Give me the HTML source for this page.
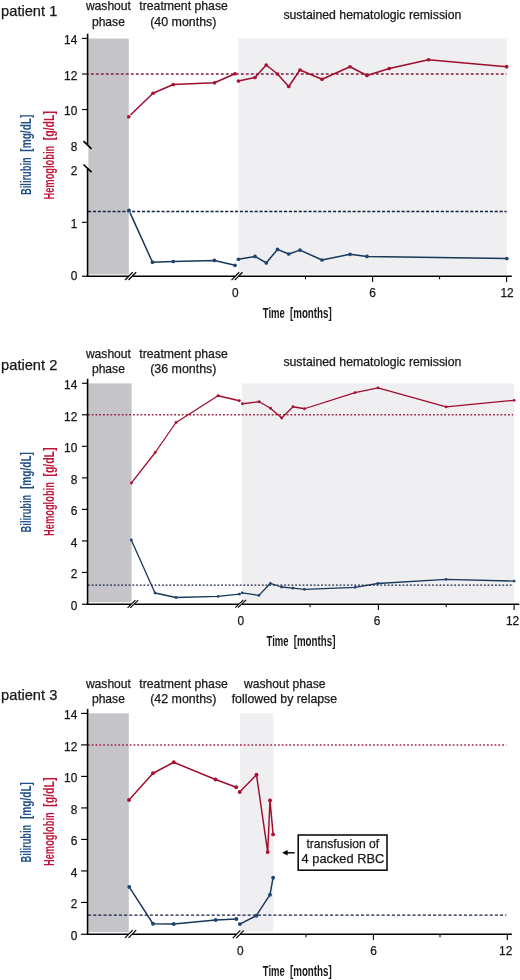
<!DOCTYPE html>
<html lang="en">
<head>
<meta charset="utf-8">
<title>Hemoglobin and bilirubin time courses</title>
<style>
html,body{margin:0;padding:0;background:#fff;}
body{width:520px;height:980px;overflow:hidden;}
svg{display:block;}
text{font-family:"Liberation Sans",Arial,Helvetica,sans-serif;fill:#1a1718;stroke:#1a1718;stroke-width:0.25px;}
.tk{font-size:11.9px;}
.hd{font-size:12.1px;}
.pt{font-size:14.3px;}
.ax{font-size:15.1px;stroke-width:0;font-weight:bold;}
.bl{fill:#1F4F86;stroke:#1F4F86;}
.rd{fill:#BE1638;stroke:#BE1638;}
.bk{fill:#1a1718;stroke:#1a1718;}
</style>
</head>
<body>
<svg width="520" height="980" viewBox="0 0 520 980">
<rect x="0" y="0" width="520" height="980" fill="#fff"/>
<!-- patient 1 -->
<g>
<rect x="88.4" y="38.5" width="40.40" height="236.00" fill="#C5C4C9"/>
<rect x="238.5" y="38.5" width="268.40" height="236.00" fill="#EFEFF2"/>
<line x1="88" y1="73.9" x2="506.5" y2="73.9" stroke="#83203F" stroke-width="1.55" stroke-dasharray="2.85 2.15" stroke-dashoffset="2.15"/>
<line x1="88" y1="211.5" x2="506.5" y2="211.5" stroke="#12223F" stroke-width="1.35" stroke-dasharray="3.1 1.8" stroke-dashoffset="0"/>
<polyline points="130.47,115.08 153.00,93.25 173.25,84.50 214.50,82.75 235.00,73.75" fill="none" stroke="#9E0D2C" stroke-width="1.5" stroke-linejoin="round" stroke-linecap="butt"/>
<polyline points="238.40,81.00 255.00,77.50 266.25,65.00 277.50,74.00 288.75,86.50 300.00,70.00 322.00,79.25 350.00,66.75 367.00,75.50 389.25,68.50 428.50,59.75 506.60,66.70" fill="none" stroke="#9E0D2C" stroke-width="1.5" stroke-linejoin="round" stroke-linecap="butt"/>
<circle cx="128.75" cy="116.75" r="1.85" fill="#AD0F31"/>
<circle cx="153.00" cy="93.25" r="1.85" fill="#AD0F31"/>
<circle cx="173.25" cy="84.50" r="1.85" fill="#AD0F31"/>
<circle cx="214.50" cy="82.75" r="1.85" fill="#AD0F31"/>
<circle cx="235.00" cy="73.75" r="1.85" fill="#AD0F31"/>
<circle cx="238.40" cy="81.00" r="1.85" fill="#AD0F31"/>
<circle cx="255.00" cy="77.50" r="1.85" fill="#AD0F31"/>
<circle cx="266.25" cy="65.00" r="1.85" fill="#AD0F31"/>
<circle cx="277.50" cy="74.00" r="1.85" fill="#AD0F31"/>
<circle cx="288.75" cy="86.50" r="1.85" fill="#AD0F31"/>
<circle cx="300.00" cy="70.00" r="1.85" fill="#AD0F31"/>
<circle cx="322.00" cy="79.25" r="1.85" fill="#AD0F31"/>
<circle cx="350.00" cy="66.75" r="1.85" fill="#AD0F31"/>
<circle cx="367.00" cy="75.50" r="1.85" fill="#AD0F31"/>
<circle cx="389.25" cy="68.50" r="1.85" fill="#AD0F31"/>
<circle cx="428.50" cy="59.75" r="1.85" fill="#AD0F31"/>
<circle cx="506.60" cy="66.70" r="1.85" fill="#AD0F31"/>
<polyline points="129.99,212.59 152.45,262.20 173.20,261.50 214.45,260.45 235.00,265.30" fill="none" stroke="#1A3658" stroke-width="1.5" stroke-linejoin="round" stroke-linecap="butt"/>
<polyline points="238.40,259.25 255.00,256.40 266.25,262.90 277.50,249.40 288.75,254.00 300.00,250.10 322.00,260.00 350.00,254.30 367.00,256.45 506.80,258.50" fill="none" stroke="#1A3658" stroke-width="1.5" stroke-linejoin="round" stroke-linecap="butt"/>
<circle cx="129.00" cy="210.40" r="1.85" fill="#1D4677"/>
<circle cx="152.45" cy="262.20" r="1.85" fill="#1D4677"/>
<circle cx="173.20" cy="261.50" r="1.85" fill="#1D4677"/>
<circle cx="214.45" cy="260.45" r="1.85" fill="#1D4677"/>
<circle cx="235.00" cy="265.30" r="1.85" fill="#1D4677"/>
<circle cx="238.40" cy="259.25" r="1.85" fill="#1D4677"/>
<circle cx="255.00" cy="256.40" r="1.85" fill="#1D4677"/>
<circle cx="266.25" cy="262.90" r="1.85" fill="#1D4677"/>
<circle cx="277.50" cy="249.40" r="1.85" fill="#1D4677"/>
<circle cx="288.75" cy="254.00" r="1.85" fill="#1D4677"/>
<circle cx="300.00" cy="250.10" r="1.85" fill="#1D4677"/>
<circle cx="322.00" cy="260.00" r="1.85" fill="#1D4677"/>
<circle cx="350.00" cy="254.30" r="1.85" fill="#1D4677"/>
<circle cx="367.00" cy="256.45" r="1.85" fill="#1D4677"/>
<circle cx="506.80" cy="258.50" r="1.85" fill="#1D4677"/>
<line x1="87.6" y1="33.7" x2="87.6" y2="144.9" stroke="#000" stroke-width="1.6"/>
<line x1="87.6" y1="168.0" x2="87.6" y2="277.0" stroke="#000" stroke-width="1.6"/>
<line x1="83.5" y1="141.15" x2="91.5" y2="148.85" stroke="#000" stroke-width="1.7"/>
<line x1="83.5" y1="164.5" x2="91.5" y2="172.15" stroke="#000" stroke-width="1.7"/>
<line x1="86.8" y1="276.2" x2="128.6" y2="276.2" stroke="#000" stroke-width="1.6"/>
<line x1="132.4" y1="276.2" x2="235.3" y2="276.2" stroke="#000" stroke-width="1.6"/>
<line x1="238.8" y1="276.2" x2="511.8" y2="276.2" stroke="#000" stroke-width="1.6"/>
<line x1="125" y1="280" x2="132.7" y2="272.3" stroke="#000" stroke-width="1.25"/>
<line x1="128.5" y1="280" x2="136.2" y2="272.3" stroke="#000" stroke-width="1.25"/>
<line x1="231.5" y1="280.15" x2="239.2" y2="272.3" stroke="#000" stroke-width="1.25"/>
<line x1="234.7" y1="280.15" x2="242.5" y2="272.3" stroke="#000" stroke-width="1.25"/>
<line x1="82.0" y1="38.4" x2="87.6" y2="38.4" stroke="#000" stroke-width="1.15"/>
<text x="77.3" y="44.0" text-anchor="end" class="tk">14</text>
<line x1="82.0" y1="74.0" x2="87.6" y2="74.0" stroke="#000" stroke-width="1.15"/>
<text x="77.3" y="79.85" text-anchor="end" class="tk">12</text>
<line x1="82.0" y1="109.55" x2="87.6" y2="109.55" stroke="#000" stroke-width="1.15"/>
<text x="77.3" y="115.2" text-anchor="end" class="tk">10</text>
<text x="77.3" y="150.9" text-anchor="end" class="tk">8</text>
<text x="77.3" y="174.5" text-anchor="end" class="tk">2</text>
<line x1="82.0" y1="222.3" x2="87.6" y2="222.3" stroke="#000" stroke-width="1.15"/>
<text x="77.3" y="228.1" text-anchor="end" class="tk">1</text>
<line x1="82.0" y1="276.25" x2="87.6" y2="276.25" stroke="#000" stroke-width="1.15"/>
<text x="77.3" y="279.8" text-anchor="end" class="tk">0</text>
<line x1="305.5" y1="276.2" x2="305.5" y2="279.3" stroke="#000" stroke-width="1.1"/>
<line x1="372.6" y1="276.2" x2="372.6" y2="281.9" stroke="#000" stroke-width="1.1"/>
<line x1="439.6" y1="276.2" x2="439.6" y2="279.3" stroke="#000" stroke-width="1.1"/>
<line x1="506.6" y1="276.2" x2="506.6" y2="281.9" stroke="#000" stroke-width="1.1"/>
<text x="235.2" y="296.8" text-anchor="middle" class="tk">0</text>
<text x="372.5" y="296.8" text-anchor="middle" class="tk">6</text>
<text x="507.1" y="296.8" text-anchor="middle" class="tk">12</text>
<text x="1.1" y="16.2" class="pt" textLength="56.2" lengthAdjust="spacingAndGlyphs">patient 1</text>
<text x="108.4" y="10.3" text-anchor="middle" class="hd">washout</text>
<text x="108.4" y="25.85" text-anchor="middle" class="hd">phase</text>
<text x="183.6" y="10.3" text-anchor="middle" class="hd" textLength="88.6" lengthAdjust="spacingAndGlyphs">treatment phase</text>
<text x="183.3" y="25.85" text-anchor="middle" class="hd" textLength="66.3" lengthAdjust="spacingAndGlyphs">(40 months)</text>
<text x="372.4" y="19.2" text-anchor="middle" class="hd" textLength="178" lengthAdjust="spacingAndGlyphs">sustained hematologic remission</text>
<text transform="translate(31.3 194.6) rotate(-90)" class="ax bl"><tspan x="-0.4" textLength="37.7" lengthAdjust="spacingAndGlyphs">Bilirubin</tspan> <tspan x="42.9" textLength="37.1" lengthAdjust="spacingAndGlyphs">[mg/dL]</tspan></text>
<text transform="translate(53.8 199.2) rotate(-90)" class="ax rd"><tspan x="-0.4" textLength="53.9" lengthAdjust="spacingAndGlyphs">Hemoglobin</tspan> <tspan x="59.0" textLength="29.1" lengthAdjust="spacingAndGlyphs">[g/dL]</tspan></text>
<text transform="translate(263.2 317.9)" class="ax bk"><tspan x="-0.4" textLength="22.0" lengthAdjust="spacingAndGlyphs">Time</tspan> <tspan x="26.8" textLength="41.7" lengthAdjust="spacingAndGlyphs">[months]</tspan></text>
</g>
<!-- patient 2 -->
<g>
<rect x="88.4" y="383.4" width="43.20" height="218.90" fill="#C5C4C9"/>
<rect x="242" y="383.4" width="272.20" height="218.90" fill="#EFEFF2"/>
<line x1="88" y1="414.8" x2="513" y2="414.8" stroke="#A01F3E" stroke-width="1.5" stroke-dasharray="1.75 2" stroke-dashoffset="0"/>
<line x1="88" y1="585.15" x2="513" y2="585.15" stroke="#12223F" stroke-width="1.3" stroke-dasharray="1.8 1.9" stroke-dashoffset="0"/>
<polyline points="131.89,482.37 155.20,452.50 176.00,422.50 218.00,395.75 239.40,400.75" fill="none" stroke="#9E0D2C" stroke-width="1.3" stroke-linejoin="round" stroke-linecap="butt"/>
<polyline points="242.40,403.75 259.20,401.75 270.50,408.25 281.70,418.00 293.00,406.75 304.50,408.75 355.10,392.60 378.00,387.80 446.20,406.90 514.10,400.30" fill="none" stroke="#9E0D2C" stroke-width="1.3" stroke-linejoin="round" stroke-linecap="butt"/>
<circle cx="131.40" cy="483.00" r="1.4" fill="#AD0F31"/>
<circle cx="155.20" cy="452.50" r="1.4" fill="#AD0F31"/>
<circle cx="176.00" cy="422.50" r="1.4" fill="#AD0F31"/>
<circle cx="218.00" cy="395.75" r="1.4" fill="#AD0F31"/>
<circle cx="239.40" cy="400.75" r="1.4" fill="#AD0F31"/>
<circle cx="242.40" cy="403.75" r="1.4" fill="#AD0F31"/>
<circle cx="259.20" cy="401.75" r="1.4" fill="#AD0F31"/>
<circle cx="270.50" cy="408.25" r="1.4" fill="#AD0F31"/>
<circle cx="281.70" cy="418.00" r="1.4" fill="#AD0F31"/>
<circle cx="293.00" cy="406.75" r="1.4" fill="#AD0F31"/>
<circle cx="304.50" cy="408.75" r="1.4" fill="#AD0F31"/>
<circle cx="355.10" cy="392.60" r="1.4" fill="#AD0F31"/>
<circle cx="378.00" cy="387.80" r="1.4" fill="#AD0F31"/>
<circle cx="446.20" cy="406.90" r="1.4" fill="#AD0F31"/>
<circle cx="514.10" cy="400.30" r="1.4" fill="#AD0F31"/>
<polyline points="131.63,540.73 155.00,593.00 176.00,597.50 218.10,596.40 239.40,594.20" fill="none" stroke="#1A3658" stroke-width="1.3" stroke-linejoin="round" stroke-linecap="butt"/>
<polyline points="242.10,592.80 258.90,595.40 270.40,583.30 281.50,587.00 292.90,588.20 304.40,589.40 355.00,587.30 377.80,583.50 446.10,579.30 514.20,581.10" fill="none" stroke="#1A3658" stroke-width="1.3" stroke-linejoin="round" stroke-linecap="butt"/>
<circle cx="131.30" cy="540.00" r="1.4" fill="#1D4677"/>
<circle cx="155.00" cy="593.00" r="1.4" fill="#1D4677"/>
<circle cx="176.00" cy="597.50" r="1.4" fill="#1D4677"/>
<circle cx="218.10" cy="596.40" r="1.4" fill="#1D4677"/>
<circle cx="239.40" cy="594.20" r="1.4" fill="#1D4677"/>
<circle cx="242.10" cy="592.80" r="1.4" fill="#1D4677"/>
<circle cx="258.90" cy="595.40" r="1.4" fill="#1D4677"/>
<circle cx="270.40" cy="583.30" r="1.4" fill="#1D4677"/>
<circle cx="281.50" cy="587.00" r="1.4" fill="#1D4677"/>
<circle cx="292.90" cy="588.20" r="1.4" fill="#1D4677"/>
<circle cx="304.40" cy="589.40" r="1.4" fill="#1D4677"/>
<circle cx="355.00" cy="587.30" r="1.4" fill="#1D4677"/>
<circle cx="377.80" cy="583.50" r="1.4" fill="#1D4677"/>
<circle cx="446.10" cy="579.30" r="1.4" fill="#1D4677"/>
<circle cx="514.20" cy="581.10" r="1.4" fill="#1D4677"/>
<line x1="87.6" y1="378.7" x2="87.6" y2="605.0" stroke="#000" stroke-width="1.6"/>
<line x1="86.8" y1="604.2" x2="131.2" y2="604.2" stroke="#000" stroke-width="1.6"/>
<line x1="134.4" y1="604.2" x2="238.8" y2="604.2" stroke="#000" stroke-width="1.6"/>
<line x1="241.8" y1="604.2" x2="519.3" y2="604.2" stroke="#000" stroke-width="1.6"/>
<line x1="127.5" y1="607.85" x2="135.4" y2="600.15" stroke="#000" stroke-width="1.15"/>
<line x1="130.2" y1="607.85" x2="138.2" y2="600.15" stroke="#000" stroke-width="1.15"/>
<line x1="235.2" y1="607.7" x2="243.4" y2="599.8" stroke="#000" stroke-width="1.15"/>
<line x1="237.9" y1="607.7" x2="246.2" y2="599.8" stroke="#000" stroke-width="1.15"/>
<line x1="82.0" y1="383.27" x2="87.6" y2="383.27" stroke="#000" stroke-width="1.15"/>
<text x="77.3" y="389.22" text-anchor="end" class="tk">14</text>
<line x1="82.0" y1="414.8" x2="87.6" y2="414.8" stroke="#000" stroke-width="1.15"/>
<text x="77.3" y="420.75" text-anchor="end" class="tk">12</text>
<line x1="82.0" y1="446.33" x2="87.6" y2="446.33" stroke="#000" stroke-width="1.15"/>
<text x="77.3" y="452.28" text-anchor="end" class="tk">10</text>
<line x1="82.0" y1="477.87" x2="87.6" y2="477.87" stroke="#000" stroke-width="1.15"/>
<text x="77.3" y="483.82" text-anchor="end" class="tk">8</text>
<line x1="82.0" y1="509.4" x2="87.6" y2="509.4" stroke="#000" stroke-width="1.15"/>
<text x="77.3" y="515.35" text-anchor="end" class="tk">6</text>
<line x1="82.0" y1="540.93" x2="87.6" y2="540.93" stroke="#000" stroke-width="1.15"/>
<text x="77.3" y="546.88" text-anchor="end" class="tk">4</text>
<line x1="82.0" y1="572.46" x2="87.6" y2="572.46" stroke="#000" stroke-width="1.15"/>
<text x="77.3" y="578.41" text-anchor="end" class="tk">2</text>
<line x1="82.0" y1="604.25" x2="87.6" y2="604.25" stroke="#000" stroke-width="1.15"/>
<text x="77.3" y="609.94" text-anchor="end" class="tk">0</text>
<line x1="310.1" y1="604.2" x2="310.1" y2="607.3000000000001" stroke="#000" stroke-width="1.1"/>
<line x1="378.4" y1="604.2" x2="378.4" y2="609.9000000000001" stroke="#000" stroke-width="1.1"/>
<line x1="446.2" y1="604.2" x2="446.2" y2="607.3000000000001" stroke="#000" stroke-width="1.1"/>
<line x1="514.1" y1="604.2" x2="514.1" y2="609.9000000000001" stroke="#000" stroke-width="1.1"/>
<text x="240.8" y="625.0" text-anchor="middle" class="tk">0</text>
<text x="377.0" y="625.0" text-anchor="middle" class="tk">6</text>
<text x="512.5" y="625.0" text-anchor="middle" class="tk">12</text>
<text x="1.1" y="370.3" class="pt" textLength="56.2" lengthAdjust="spacingAndGlyphs">patient 2</text>
<text x="108.4" y="357.9" text-anchor="middle" class="hd">washout</text>
<text x="108.4" y="373.3" text-anchor="middle" class="hd">phase</text>
<text x="183.6" y="357.9" text-anchor="middle" class="hd" textLength="88.6" lengthAdjust="spacingAndGlyphs">treatment phase</text>
<text x="183.3" y="373.3" text-anchor="middle" class="hd" textLength="66.3" lengthAdjust="spacingAndGlyphs">(36 months)</text>
<text x="372.4" y="366.2" text-anchor="middle" class="hd" textLength="178" lengthAdjust="spacingAndGlyphs">sustained hematologic remission</text>
<text transform="translate(31.3 532.0) rotate(-90)" class="ax bl"><tspan x="-0.4" textLength="37.7" lengthAdjust="spacingAndGlyphs">Bilirubin</tspan> <tspan x="42.9" textLength="37.1" lengthAdjust="spacingAndGlyphs">[mg/dL]</tspan></text>
<text transform="translate(53.8 535.6) rotate(-90)" class="ax rd"><tspan x="-0.4" textLength="53.9" lengthAdjust="spacingAndGlyphs">Hemoglobin</tspan> <tspan x="59.0" textLength="29.1" lengthAdjust="spacingAndGlyphs">[g/dL]</tspan></text>
<text transform="translate(266.9 645.8)" class="ax bk"><tspan x="-0.4" textLength="22.0" lengthAdjust="spacingAndGlyphs">Time</tspan> <tspan x="26.8" textLength="41.7" lengthAdjust="spacingAndGlyphs">[months]</tspan></text>
</g>
<!-- patient 3 -->
<g>
<rect x="88.4" y="713.3" width="40.40" height="218.90" fill="#C5C4C9"/>
<rect x="240.1" y="713.3" width="33.20" height="218.50" fill="#EFEFF2"/>
<line x1="88" y1="744.9" x2="506.3" y2="744.9" stroke="#A01F3E" stroke-width="1.5" stroke-dasharray="1.7 2.1" stroke-dashoffset="0"/>
<line x1="88" y1="915.15" x2="506.3" y2="915.15" stroke="#12223F" stroke-width="1.35" stroke-dasharray="3.1 2.05" stroke-dashoffset="0"/>
<polyline points="130.07,798.81 153.00,773.25 173.75,762.25 215.50,779.50 236.20,787.20" fill="none" stroke="#9E0D2C" stroke-width="1.45" stroke-linejoin="round" stroke-linecap="butt"/>
<polyline points="239.70,792.00 256.50,774.80 267.70,852.10 270.00,800.40 273.10,834.40" fill="none" stroke="#9E0D2C" stroke-width="1.45" stroke-linejoin="round" stroke-linecap="butt"/>
<circle cx="129.00" cy="800.00" r="1.95" fill="#AD0F31"/>
<circle cx="153.00" cy="773.25" r="1.95" fill="#AD0F31"/>
<circle cx="173.75" cy="762.25" r="1.95" fill="#AD0F31"/>
<circle cx="215.50" cy="779.50" r="1.95" fill="#AD0F31"/>
<circle cx="236.20" cy="787.20" r="1.95" fill="#AD0F31"/>
<circle cx="239.70" cy="792.00" r="1.95" fill="#AD0F31"/>
<circle cx="256.50" cy="774.80" r="1.95" fill="#AD0F31"/>
<circle cx="267.70" cy="852.10" r="1.95" fill="#AD0F31"/>
<circle cx="270.00" cy="800.40" r="1.95" fill="#AD0F31"/>
<circle cx="273.10" cy="834.40" r="1.95" fill="#AD0F31"/>
<polyline points="130.12,888.34 153.00,923.75 173.75,924.00 215.75,920.00 236.40,919.00" fill="none" stroke="#1A3658" stroke-width="1.45" stroke-linejoin="round" stroke-linecap="butt"/>
<polyline points="239.80,924.10 256.30,915.70 270.00,894.70 273.10,877.70" fill="none" stroke="#1A3658" stroke-width="1.45" stroke-linejoin="round" stroke-linecap="butt"/>
<circle cx="129.25" cy="887.00" r="1.95" fill="#1D4677"/>
<circle cx="153.00" cy="923.75" r="1.95" fill="#1D4677"/>
<circle cx="173.75" cy="924.00" r="1.95" fill="#1D4677"/>
<circle cx="215.75" cy="920.00" r="1.95" fill="#1D4677"/>
<circle cx="236.40" cy="919.00" r="1.95" fill="#1D4677"/>
<circle cx="239.80" cy="924.10" r="1.95" fill="#1D4677"/>
<circle cx="256.30" cy="915.70" r="1.95" fill="#1D4677"/>
<circle cx="270.00" cy="894.70" r="1.95" fill="#1D4677"/>
<circle cx="273.10" cy="877.70" r="1.95" fill="#1D4677"/>
<line x1="87.6" y1="708.9" x2="87.6" y2="935.0" stroke="#000" stroke-width="1.6"/>
<line x1="86.8" y1="934.2" x2="128.6" y2="934.2" stroke="#000" stroke-width="1.6"/>
<line x1="132.4" y1="934.2" x2="236.5" y2="934.2" stroke="#000" stroke-width="1.6"/>
<line x1="240.2" y1="934.2" x2="511.9" y2="934.2" stroke="#000" stroke-width="1.6"/>
<line x1="125" y1="937.9" x2="132.7" y2="930.2" stroke="#000" stroke-width="1.2"/>
<line x1="128.5" y1="937.9" x2="136.2" y2="930.2" stroke="#000" stroke-width="1.2"/>
<line x1="232.8" y1="938.1" x2="240.3" y2="930.4" stroke="#000" stroke-width="1.2"/>
<line x1="236.2" y1="938.1" x2="243.9" y2="930.4" stroke="#000" stroke-width="1.2"/>
<line x1="81.1" y1="713.4" x2="87.6" y2="713.4" stroke="#000" stroke-width="1.15"/>
<text x="77.3" y="719.35" text-anchor="end" class="tk">14</text>
<line x1="81.1" y1="744.91" x2="87.6" y2="744.91" stroke="#000" stroke-width="1.15"/>
<text x="77.3" y="750.86" text-anchor="end" class="tk">12</text>
<line x1="81.1" y1="776.42" x2="87.6" y2="776.42" stroke="#000" stroke-width="1.15"/>
<text x="77.3" y="782.37" text-anchor="end" class="tk">10</text>
<line x1="81.1" y1="807.93" x2="87.6" y2="807.93" stroke="#000" stroke-width="1.15"/>
<text x="77.3" y="813.88" text-anchor="end" class="tk">8</text>
<line x1="81.1" y1="839.44" x2="87.6" y2="839.44" stroke="#000" stroke-width="1.15"/>
<text x="77.3" y="845.39" text-anchor="end" class="tk">6</text>
<line x1="81.1" y1="870.95" x2="87.6" y2="870.95" stroke="#000" stroke-width="1.15"/>
<text x="77.3" y="876.9" text-anchor="end" class="tk">4</text>
<line x1="81.1" y1="902.46" x2="87.6" y2="902.46" stroke="#000" stroke-width="1.15"/>
<text x="77.3" y="908.41" text-anchor="end" class="tk">2</text>
<line x1="81.1" y1="934.25" x2="87.6" y2="934.25" stroke="#000" stroke-width="1.15"/>
<text x="77.3" y="939.92" text-anchor="end" class="tk">0</text>
<line x1="306" y1="934.2" x2="306" y2="937.3000000000001" stroke="#000" stroke-width="1.1"/>
<line x1="373.4" y1="934.2" x2="373.4" y2="939.9000000000001" stroke="#000" stroke-width="1.1"/>
<line x1="440" y1="934.2" x2="440" y2="937.3000000000001" stroke="#000" stroke-width="1.1"/>
<line x1="507.3" y1="934.2" x2="507.3" y2="939.9000000000001" stroke="#000" stroke-width="1.1"/>
<text x="240.3" y="954.7" text-anchor="middle" class="tk">0</text>
<text x="373.5" y="954.7" text-anchor="middle" class="tk">6</text>
<text x="505.7" y="954.7" text-anchor="middle" class="tk">12</text>
<text x="1.1" y="700" class="pt" textLength="56.2" lengthAdjust="spacingAndGlyphs">patient 3</text>
<text x="108.4" y="687.7" text-anchor="middle" class="hd">washout</text>
<text x="108.4" y="703.4" text-anchor="middle" class="hd">phase</text>
<text x="183.6" y="687.7" text-anchor="middle" class="hd" textLength="88.6" lengthAdjust="spacingAndGlyphs">treatment phase</text>
<text x="183.3" y="703.4" text-anchor="middle" class="hd" textLength="66.3" lengthAdjust="spacingAndGlyphs">(42 months)</text>
<text x="284.8" y="687.7" text-anchor="middle" class="hd">washout phase</text>
<text x="284.4" y="703.4" text-anchor="middle" class="hd" textLength="105.5" lengthAdjust="spacingAndGlyphs">followed by relapse</text>
<text transform="translate(31.3 862.0) rotate(-90)" class="ax bl"><tspan x="-0.4" textLength="37.7" lengthAdjust="spacingAndGlyphs">Bilirubin</tspan> <tspan x="42.9" textLength="37.1" lengthAdjust="spacingAndGlyphs">[mg/dL]</tspan></text>
<text transform="translate(53.8 865.7) rotate(-90)" class="ax rd"><tspan x="-0.4" textLength="53.9" lengthAdjust="spacingAndGlyphs">Hemoglobin</tspan> <tspan x="59.0" textLength="29.1" lengthAdjust="spacingAndGlyphs">[g/dL]</tspan></text>
<text transform="translate(263.2 976.2)" class="ax bk"><tspan x="-0.4" textLength="22.0" lengthAdjust="spacingAndGlyphs">Time</tspan> <tspan x="26.8" textLength="41.7" lengthAdjust="spacingAndGlyphs">[months]</tspan></text>
</g>
<!-- annotation -->
<rect x="298.2" y="835" width="88.8" height="35.2" fill="#fff" stroke="#000" stroke-width="1.5"/>
<text x="342.8" y="848" text-anchor="middle" class="hd">transfusion of</text>
<text x="342.9" y="863.3" text-anchor="middle" class="hd" textLength="82.6" lengthAdjust="spacingAndGlyphs">4 packed RBC</text>
<line x1="286" y1="852.8" x2="294.7" y2="852.8" stroke="#000" stroke-width="1.4"/>
<polygon points="282.1,852.8 287.6,850.1 287.6,855.5" fill="#000"/>
</svg>
</body>
</html>
